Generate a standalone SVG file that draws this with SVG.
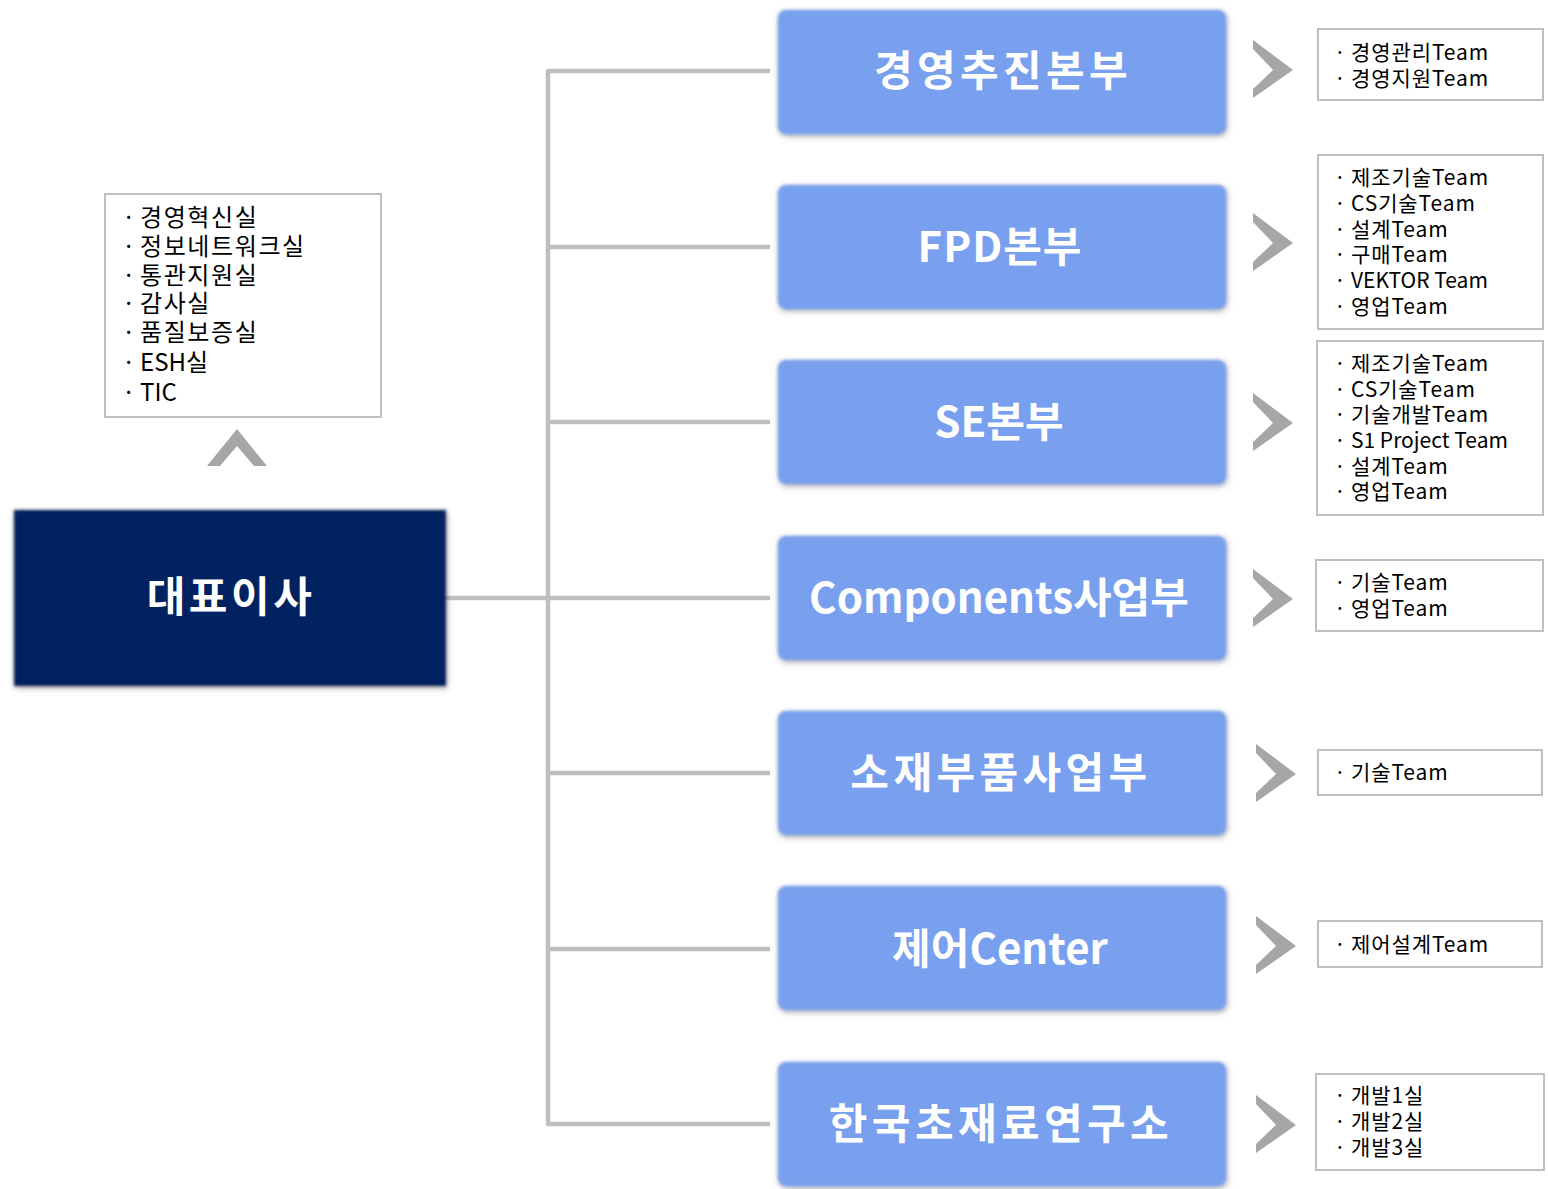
<svg xmlns="http://www.w3.org/2000/svg" width="1548" height="1189" viewBox="0 0 1548 1189">
<defs>
<filter id="soft" x="-10%" y="-15%" width="120%" height="130%">
<feGaussianBlur in="SourceAlpha" stdDeviation="3" result="b"/>
<feOffset in="b" dx="1" dy="2" result="o"/>
<feFlood flood-color="#595959" flood-opacity="0.55"/>
<feComposite in2="o" operator="in" result="s"/>
<feGaussianBlur in="SourceGraphic" stdDeviation="1.6" result="g"/>
<feMerge><feMergeNode in="s"/><feMergeNode in="g"/></feMerge>
</filter>
<polygon id="chev" points="0,0 40,30 0,58 0,49 20,30 0,9" fill="#a6a6a6"/>
</defs>
<style>
.dept{fill:#78a0ef;}
.dt{font-family:"Noto Sans CJK KR","Noto Sans",sans-serif;font-weight:bold;font-size:42px;fill:#ffffff;text-anchor:middle;}
.hs{letter-spacing:4.4px;}
.lst{fill:#ffffff;stroke:#bfbfbf;stroke-width:2;}
.lt{font-family:"Noto Sans CJK KR","Noto Sans",sans-serif;font-size:21px;fill:#000000;letter-spacing:0.9px;}
.lt2{font-family:"Noto Sans CJK KR","Noto Sans",sans-serif;font-size:24px;fill:#000000;letter-spacing:1.6px;}
.ls0{letter-spacing:0;}
.conn{fill:none;stroke:#bfbfbf;stroke-width:4.5;stroke-linejoin:round;}
</style>
<rect width="1548" height="1189" fill="#ffffff"/>

<g id="connectors">
<polyline class="conn" points="770,71 548,71 548,1124 770,1124"/>
<line class="conn" x1="548" y1="247" x2="770" y2="247"/>
<line class="conn" x1="548" y1="422" x2="770" y2="422"/>
<line class="conn" x1="440" y1="598" x2="770" y2="598"/>
<line class="conn" x1="548" y1="773" x2="770" y2="773"/>
<line class="conn" x1="548" y1="949" x2="770" y2="949"/>
</g>

<g id="staff-list">
<rect class="lst" x="105" y="194" width="276" height="223"/>
<text class="lt2"><tspan x="122" y="226">·</tspan><tspan x="140" y="226">경영혁신실</tspan></text>
<text class="lt2"><tspan x="122" y="255">·</tspan><tspan x="140" y="255">정보네트워크실</tspan></text>
<text class="lt2"><tspan x="122" y="284">·</tspan><tspan x="140" y="284">통관지원실</tspan></text>
<text class="lt2"><tspan x="122" y="312">·</tspan><tspan x="140" y="312">감사실</tspan></text>
<text class="lt2"><tspan x="122" y="341">·</tspan><tspan x="140" y="341">품질보증실</tspan></text>
<text class="lt2 ls0"><tspan x="122" y="371">·</tspan><tspan x="140" y="371">ESH실</tspan></text>
<text class="lt2 ls0"><tspan x="122" y="401">·</tspan><tspan x="140" y="401">TIC</tspan></text>
</g>
<g id="staff-arrow">
<polygon points="207,466 237,429 267,466 254,466 237,446 220,466" fill="#a6a6a6"/>
</g>

<g id="ceo">
<rect x="14" y="510" width="432" height="176" fill="#002060" filter="url(#soft)"/>
<text class="dt" x="231" y="612" letter-spacing="3.5">대표이사</text>
</g>

<g id="dept1">
<rect class="dept" x="778" y="10" width="448" height="124" rx="8" filter="url(#soft)"/>
<text class="dt hs" x="1003" y="86">경영추진본부</text>
</g>
<g id="dept2">
<rect class="dept" x="778" y="185" width="448" height="124" rx="8" filter="url(#soft)"/>
<text class="dt" x="1000" y="262" letter-spacing="1">FPD본부</text>
</g>
<g id="dept3">
<rect class="dept" x="778" y="360" width="448" height="124" rx="8" filter="url(#soft)"/>
<text class="dt" x="999" y="437">SE본부</text>
</g>
<g id="dept4">
<rect class="dept" x="778" y="536" width="448" height="124" rx="8" filter="url(#soft)"/>
<text class="dt" x="999" y="613">Components사업부</text>
</g>
<g id="dept5">
<rect class="dept" x="778" y="711" width="448" height="124" rx="8" filter="url(#soft)"/>
<text class="dt hs" x="1001" y="788">소재부품사업부</text>
</g>
<g id="dept6">
<rect class="dept" x="778" y="886" width="448" height="124" rx="8" filter="url(#soft)"/>
<text class="dt" x="1000" y="964">제어Center</text>
</g>
<g id="dept7">
<rect class="dept" x="778" y="1062" width="448" height="124" rx="8" filter="url(#soft)"/>
<text class="dt hs" x="1001" y="1139">한국초재료연구소</text>
</g>

<g id="arrows">
<use href="#chev" x="1253" y="40"/>
<use href="#chev" x="1253" y="213"/>
<use href="#chev" x="1253" y="393"/>
<use href="#chev" x="1253" y="569"/>
<use href="#chev" x="1256" y="744"/>
<use href="#chev" x="1256" y="916"/>
<use href="#chev" x="1256" y="1095"/>
</g>

<g id="teams1">
<rect class="lst" x="1318" y="29" width="225" height="71"/>
<text class="lt"><tspan x="1334" y="60">·</tspan><tspan x="1351" y="60">경영관리Team</tspan></text>
<text class="lt"><tspan x="1334" y="86">·</tspan><tspan x="1351" y="86">경영지원Team</tspan></text>
</g>
<g id="teams2">
<rect class="lst" x="1318" y="155" width="225" height="174"/>
<text class="lt"><tspan x="1334" y="185">·</tspan><tspan x="1351" y="185">제조기술Team</tspan></text>
<text class="lt"><tspan x="1334" y="211">·</tspan><tspan x="1351" y="211">CS기술Team</tspan></text>
<text class="lt"><tspan x="1334" y="237">·</tspan><tspan x="1351" y="237">설계Team</tspan></text>
<text class="lt"><tspan x="1334" y="262">·</tspan><tspan x="1351" y="262">구매Team</tspan></text>
<text class="lt ls0"><tspan x="1334" y="288">·</tspan><tspan x="1351" y="288">VEKTOR Team</tspan></text>
<text class="lt"><tspan x="1334" y="314">·</tspan><tspan x="1351" y="314">영업Team</tspan></text>
</g>
<g id="teams3">
<rect class="lst" x="1317" y="341" width="226" height="174"/>
<text class="lt"><tspan x="1334" y="371">·</tspan><tspan x="1351" y="371">제조기술Team</tspan></text>
<text class="lt"><tspan x="1334" y="397">·</tspan><tspan x="1351" y="397">CS기술Team</tspan></text>
<text class="lt"><tspan x="1334" y="422">·</tspan><tspan x="1351" y="422">기술개발Team</tspan></text>
<text class="lt ls0"><tspan x="1334" y="448">·</tspan><tspan x="1351" y="448">S1 Project Team</tspan></text>
<text class="lt"><tspan x="1334" y="474">·</tspan><tspan x="1351" y="474">설계Team</tspan></text>
<text class="lt"><tspan x="1334" y="499">·</tspan><tspan x="1351" y="499">영업Team</tspan></text>
</g>
<g id="teams4">
<rect class="lst" x="1316" y="560" width="227" height="71"/>
<text class="lt"><tspan x="1334" y="590">·</tspan><tspan x="1351" y="590">기술Team</tspan></text>
<text class="lt"><tspan x="1334" y="616">·</tspan><tspan x="1351" y="616">영업Team</tspan></text>
</g>
<g id="teams5">
<rect class="lst" x="1318" y="750" width="224" height="45"/>
<text class="lt"><tspan x="1334" y="780">·</tspan><tspan x="1351" y="780">기술Team</tspan></text>
</g>
<g id="teams6">
<rect class="lst" x="1318" y="921" width="224" height="46"/>
<text class="lt"><tspan x="1334" y="952">·</tspan><tspan x="1351" y="952">제어설계Team</tspan></text>
</g>
<g id="teams7">
<rect class="lst" x="1316" y="1074" width="228" height="96"/>
<text class="lt"><tspan x="1334" y="1103">·</tspan><tspan x="1351" y="1103">개발1실</tspan></text>
<text class="lt"><tspan x="1334" y="1129">·</tspan><tspan x="1351" y="1129">개발2실</tspan></text>
<text class="lt"><tspan x="1334" y="1155">·</tspan><tspan x="1351" y="1155">개발3실</tspan></text>
</g>
</svg>
